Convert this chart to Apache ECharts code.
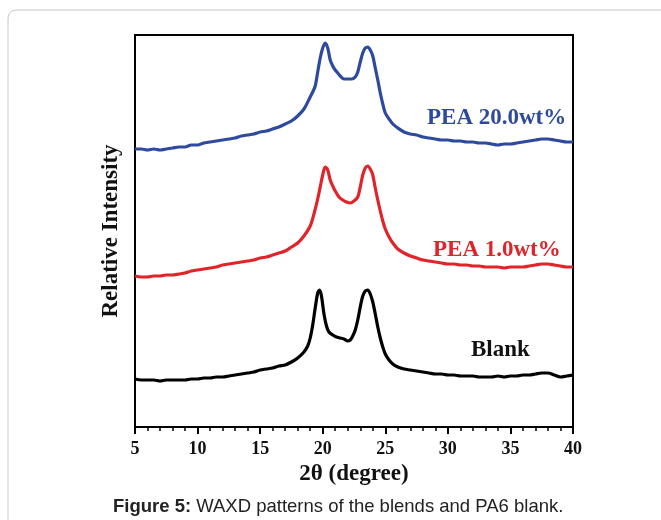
<!DOCTYPE html>
<html>
<head>
<meta charset="utf-8">
<script src="https://cdn.jsdelivr.net/npm/echarts@6/dist/echarts.min.js"></script>
<style>
  html, body { margin: 0; padding: 0; background: #fff; }
  #chart { width: 661px; height: 520px; }
</style>
</head>
<body>
<div id="chart"></div>
<script>
// 2θ 刻度
const xTicks = [5, 10, 15, 20, 25, 30, 35, 40];

// Blank (PA6)
const blankX = [5, 5.5, 6, 6.5, 7, 7.5, 8, 8.5, 9, 9.5, 10, 10.5, 11, 11.5, 12, 12.5, 13, 13.5, 14, 14.5, 15, 15.5, 16, 16.5, 17, 17.5, 18, 18.5, 18.8, 19, 19.2, 19.4, 19.6, 19.75, 19.9, 20.1, 20.3, 20.5, 20.8, 21.1, 21.4, 21.7, 22, 22.2, 22.4, 22.6, 22.8, 23, 23.2, 23.4, 23.6, 23.8, 24, 24.2, 24.4, 24.6, 24.8, 25, 25.3, 25.6, 26, 26.5, 27, 27.5, 28, 28.5, 29, 29.5, 30, 30.5, 31, 31.5, 32, 32.5, 33, 33.5, 34, 34.5, 35, 35.5, 36, 36.5, 37, 37.5, 38, 38.5, 39, 39.5, 40];
const blankY = [48, 47, 47, 47, 46, 47, 47, 47, 47, 48, 48, 49, 49, 50, 50, 51, 52, 53, 54, 55, 57, 58, 59, 61, 62, 65, 69, 75, 81, 89, 102, 119, 134, 137, 131, 113, 101, 95, 92, 90, 89, 88, 86, 87, 91, 97, 107, 120, 131, 136, 137, 133, 125, 113, 100, 89, 80, 73, 67, 63, 60, 58, 57, 56, 55, 54, 53, 53, 52, 52, 51, 51, 51, 50, 50, 50, 51, 50, 51, 51, 52, 52, 53, 54, 54, 52, 50, 51, 52];

// PEA 1.0wt%
const pea1X = [5, 5.5, 6, 6.5, 7, 7.5, 8, 8.5, 9, 9.5, 10, 10.5, 11, 11.5, 12, 12.5, 13, 13.5, 14, 14.5, 15, 15.5, 16, 16.5, 17, 17.5, 18, 18.5, 19, 19.3, 19.6, 19.8, 20, 20.2, 20.4, 20.6, 20.8, 21, 21.3, 21.6, 21.9, 22.2, 22.5, 22.8, 23, 23.2, 23.4, 23.6, 23.8, 24, 24.2, 24.4, 24.6, 24.8, 25, 25.3, 25.6, 26, 26.5, 27, 27.5, 28, 28.5, 29, 29.5, 30, 30.5, 31, 31.5, 32, 32.5, 33, 33.5, 34, 34.5, 35, 35.5, 36, 36.5, 37, 37.5, 38, 38.5, 39, 39.5, 40];
const pea1Y = [151, 150, 150, 151, 151, 152, 152, 153, 154, 156, 157, 158, 159, 160, 162, 163, 164, 165, 166, 167, 169, 170, 172, 174, 176, 180, 184, 191, 201, 213, 228, 240, 252, 260, 257, 247, 241, 236, 230, 227, 225, 224, 226, 230, 240, 252, 259, 261, 258, 252, 239, 227, 216, 206, 198, 190, 184, 178, 174, 171, 169, 167, 166, 165, 164, 163, 163, 162, 162, 161, 161, 160, 160, 160, 159, 160, 160, 160, 161, 162, 163, 163, 162, 161, 160, 160];

// PEA 20.0wt%
const pea20X = [5, 5.5, 6, 6.5, 7, 7.5, 8, 8.5, 9, 9.5, 10, 10.5, 11, 11.5, 12, 12.5, 13, 13.5, 14, 14.5, 15, 15.5, 16, 16.5, 17, 17.5, 18, 18.5, 19, 19.2, 19.4, 19.6, 19.8, 20, 20.2, 20.4, 20.6, 20.8, 21, 21.2, 21.4, 21.7, 22, 22.3, 22.6, 22.8, 23, 23.2, 23.4, 23.6, 23.8, 24, 24.2, 24.4, 24.6, 24.8, 25, 25.3, 25.6, 26, 26.5, 27, 27.5, 28, 28.5, 29, 29.5, 30, 30.5, 31, 31.5, 32, 32.5, 33, 33.5, 34, 34.5, 35, 35.5, 36, 36.5, 37, 37.5, 38, 38.5, 39, 39.5, 40];
const pea20Y = [278, 278, 277, 278, 277, 278, 279, 280, 280, 282, 282, 284, 285, 286, 287, 288, 289, 291, 292, 293, 295, 296, 298, 300, 303, 306, 311, 318, 330, 335, 341, 355, 369, 379, 384, 379, 367, 361, 357, 354, 351, 348, 348, 348, 350, 355, 365, 374, 379, 380, 377, 371, 359, 347, 334, 323, 314, 308, 303, 299, 295, 293, 292, 290, 289, 288, 287, 287, 286, 286, 285, 285, 284, 284, 283, 282, 283, 283, 284, 285, 286, 287, 288, 288, 287, 286, 285, 285];

const chart = echarts.init(document.getElementById("chart"));

const zip = (xs, ys) => xs.map((x, i) => [x, ys[i]]);
const serif = "'Liberation Serif', 'DejaVu Serif', serif";
const sans = "'Liberation Sans', Arial, sans-serif";

const makeLine = (name, xs, ys, color) => ({
  name,
  type: "line",
  data: zip(xs, ys),
  symbol: "none",
  smooth: 0.3,
  lineStyle: { color, width: 3.2 },
  z: 3,
});

const option = {
  animation: false,
  backgroundColor: "#fff",
  grid: {
    left: 135,
    right: 88,
    top: 35,
    bottom: 93,
    show: true,
    borderColor: "#000",
    borderWidth: 2,
  },
  xAxis: {
    type: "value",
    min: 5,
    max: 40,
    interval: 5,
    name: "2θ (degree)",
    nameLocation: "middle",
    nameGap: 31,
    nameTextStyle: { fontFamily: serif, fontWeight: "bold", fontSize: 23, color: "#111" },
    axisLine: { lineStyle: { color: "#000", width: 2 } },
    axisTick: { show: true, length: 7, lineStyle: { color: "#000", width: 2 } },
    minorTick: { show: true, splitNumber: 5, length: 4, lineStyle: { color: "#000", width: 1.5 } },
    axisLabel: {
      fontFamily: serif,
      fontWeight: "bold",
      fontSize: 18,
      color: "#111",
      margin: 13,
      formatter: (v) => (xTicks.includes(v) ? String(v) : ""),
    },
    splitLine: { show: false },
  },
  yAxis: {
    type: "value",
    min: 0,
    max: 392,
    name: "Relative Intensity",
    nameLocation: "middle",
    nameGap: 12,
    nameRotate: 90,
    nameTextStyle: { fontFamily: serif, fontWeight: "bold", fontSize: 23, color: "#111" },
    axisLine: { show: true, lineStyle: { color: "#000", width: 2 } },
    axisTick: { show: false },
    axisLabel: { show: false },
    splitLine: { show: false },
  },
  series: [
    makeLine("Blank", blankX, blankY, "#000000"),
    makeLine("PEA 1.0wt%", pea1X, pea1Y, "#e0242a"),
    makeLine("PEA 20.0wt%", pea20X, pea20Y, "#2e4a9e"),
  ],
  graphic: [
    // 外框
    {
      type: "rect",
      shape: { x: 8, y: 10, width: 700, height: 560, r: 8 },
      style: { fill: "none", stroke: "#c8c8c8", lineWidth: 1 },
      silent: true,
      z: -1,
    },
    {
      type: "text",
      left: 427,
      top: 107,
      style: { text: "PEA 20.0wt%", fill: "#2e4a9e", font: `bold 23px ${serif}` },
    },
    {
      type: "text",
      left: 433,
      top: 239,
      style: { text: "PEA 1.0wt%", fill: "#e0242a", font: `bold 23px ${serif}` },
    },
    {
      type: "text",
      left: 471,
      top: 339,
      style: { text: "Blank", fill: "#111", font: `bold 23px ${serif}` },
    },
    // 图注
    {
      type: "text",
      left: 113,
      top: 497,
      style: {
        text: "{b|Figure 5:} WAXD patterns of the blends and PA6 blank.",
        rich: {
          b: { fontFamily: sans, fontWeight: "bold", fontSize: 18.5, fill: "#222" },
        },
        fontFamily: sans,
        fontSize: 18.5,
        fill: "#222",
      },
    },
  ],
};

chart.setOption(option);
</script>
</body>
</html>
